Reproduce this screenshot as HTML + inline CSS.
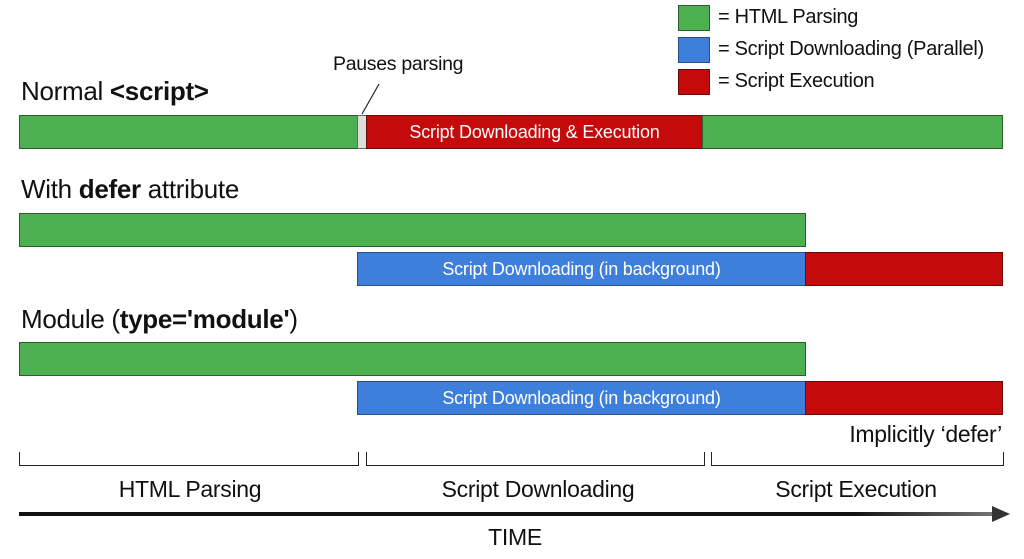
<!DOCTYPE html>
<html><head><meta charset="utf-8"><style>
body{margin:0;width:1024px;height:559px;background:#fff;position:relative;overflow:hidden;font-family:"Liberation Sans",sans-serif;color:#111}
.a{position:absolute;box-sizing:border-box}
.g{background:#4caf50;border:1px solid #2e5e2e}
.b{background:#3f7fdc;border:1px solid #2a4f8a}
.r{background:#c40a0a;border:1px solid #6b0a0a}
.bt{color:#fff;font-size:18px;display:flex;align-items:center;justify-content:center;letter-spacing:-0.2px}
.t{position:absolute;white-space:nowrap;letter-spacing:-0.3px}
.br{position:absolute;border:1.5px solid #222;border-top:none;height:14px;top:452px;box-sizing:border-box}
</style></head><body>
<div class="a g" style="left:678px;top:5px;width:32px;height:26px"></div>
<div class="a b" style="left:678px;top:37px;width:32px;height:26px"></div>
<div class="a r" style="left:678px;top:69px;width:32px;height:26px"></div>
<div class="t" style="left:718px;top:6px;font-size:20px">= HTML Parsing</div>
<div class="t" style="left:718px;top:38px;font-size:20px">= Script Downloading (Parallel)</div>
<div class="t" style="left:718px;top:70px;font-size:20px">= Script Execution</div>
<div class="t" style="left:333px;top:53px;font-size:19.5px">Pauses parsing</div>
<svg class="a" style="left:0;top:0" width="1024" height="559"><line x1="362" y1="114" x2="379" y2="84" stroke="#222" stroke-width="1.2"/>
<defs><linearGradient id="ag" x1="0" x2="1"><stop offset="0.85" stop-color="#111"/><stop offset="1" stop-color="#777"/></linearGradient></defs>
<rect x="19" y="512" width="980" height="4" fill="url(#ag)"/>
<polygon points="992,506 1010,514 992,522" fill="#333"/></svg>
<div class="t" style="left:21px;top:76px;font-size:26px">Normal <b>&lt;script&gt;</b></div>
<div class="a g" style="left:19px;top:115px;width:339px;height:34px"></div>
<div class="a" style="left:357px;top:115px;width:10px;height:34px;background:#ddd;border:1px solid #666"></div>
<div class="a r bt" style="left:366px;top:115px;width:337px;height:34px">Script Downloading &amp; Execution</div>
<div class="a g" style="left:702px;top:115px;width:301px;height:34px"></div>
<div class="t" style="left:21px;top:174px;font-size:26px">With <b>defer</b> attribute</div>
<div class="a g" style="left:19px;top:213px;width:787px;height:34px"></div>
<div class="a b bt" style="left:357px;top:252px;width:449px;height:34px">Script Downloading (in background)</div>
<div class="a r" style="left:805px;top:252px;width:198px;height:34px"></div>
<div class="t" style="left:21px;top:304px;font-size:26px">Module (<b>type='module'</b>)</div>
<div class="a g" style="left:19px;top:342px;width:787px;height:34px"></div>
<div class="a b bt" style="left:357px;top:381px;width:449px;height:34px">Script Downloading (in background)</div>
<div class="a r" style="left:805px;top:381px;width:198px;height:34px"></div>
<div class="t" style="right:22px;top:421px;font-size:23px">Implicitly ‘defer’</div>
<div class="br" style="left:19px;width:340px"></div>
<div class="br" style="left:366px;width:339px"></div>
<div class="br" style="left:711px;width:293px"></div>
<div class="t" style="left:190px;top:476px;font-size:23px;transform:translateX(-50%)">HTML Parsing</div>
<div class="t" style="left:538px;top:476px;font-size:23px;transform:translateX(-50%)">Script Downloading</div>
<div class="t" style="left:856px;top:476px;font-size:23px;transform:translateX(-50%)">Script Execution</div>
<div class="t" style="left:515px;top:524px;font-size:23px;transform:translateX(-50%)">TIME</div>
</body></html>
